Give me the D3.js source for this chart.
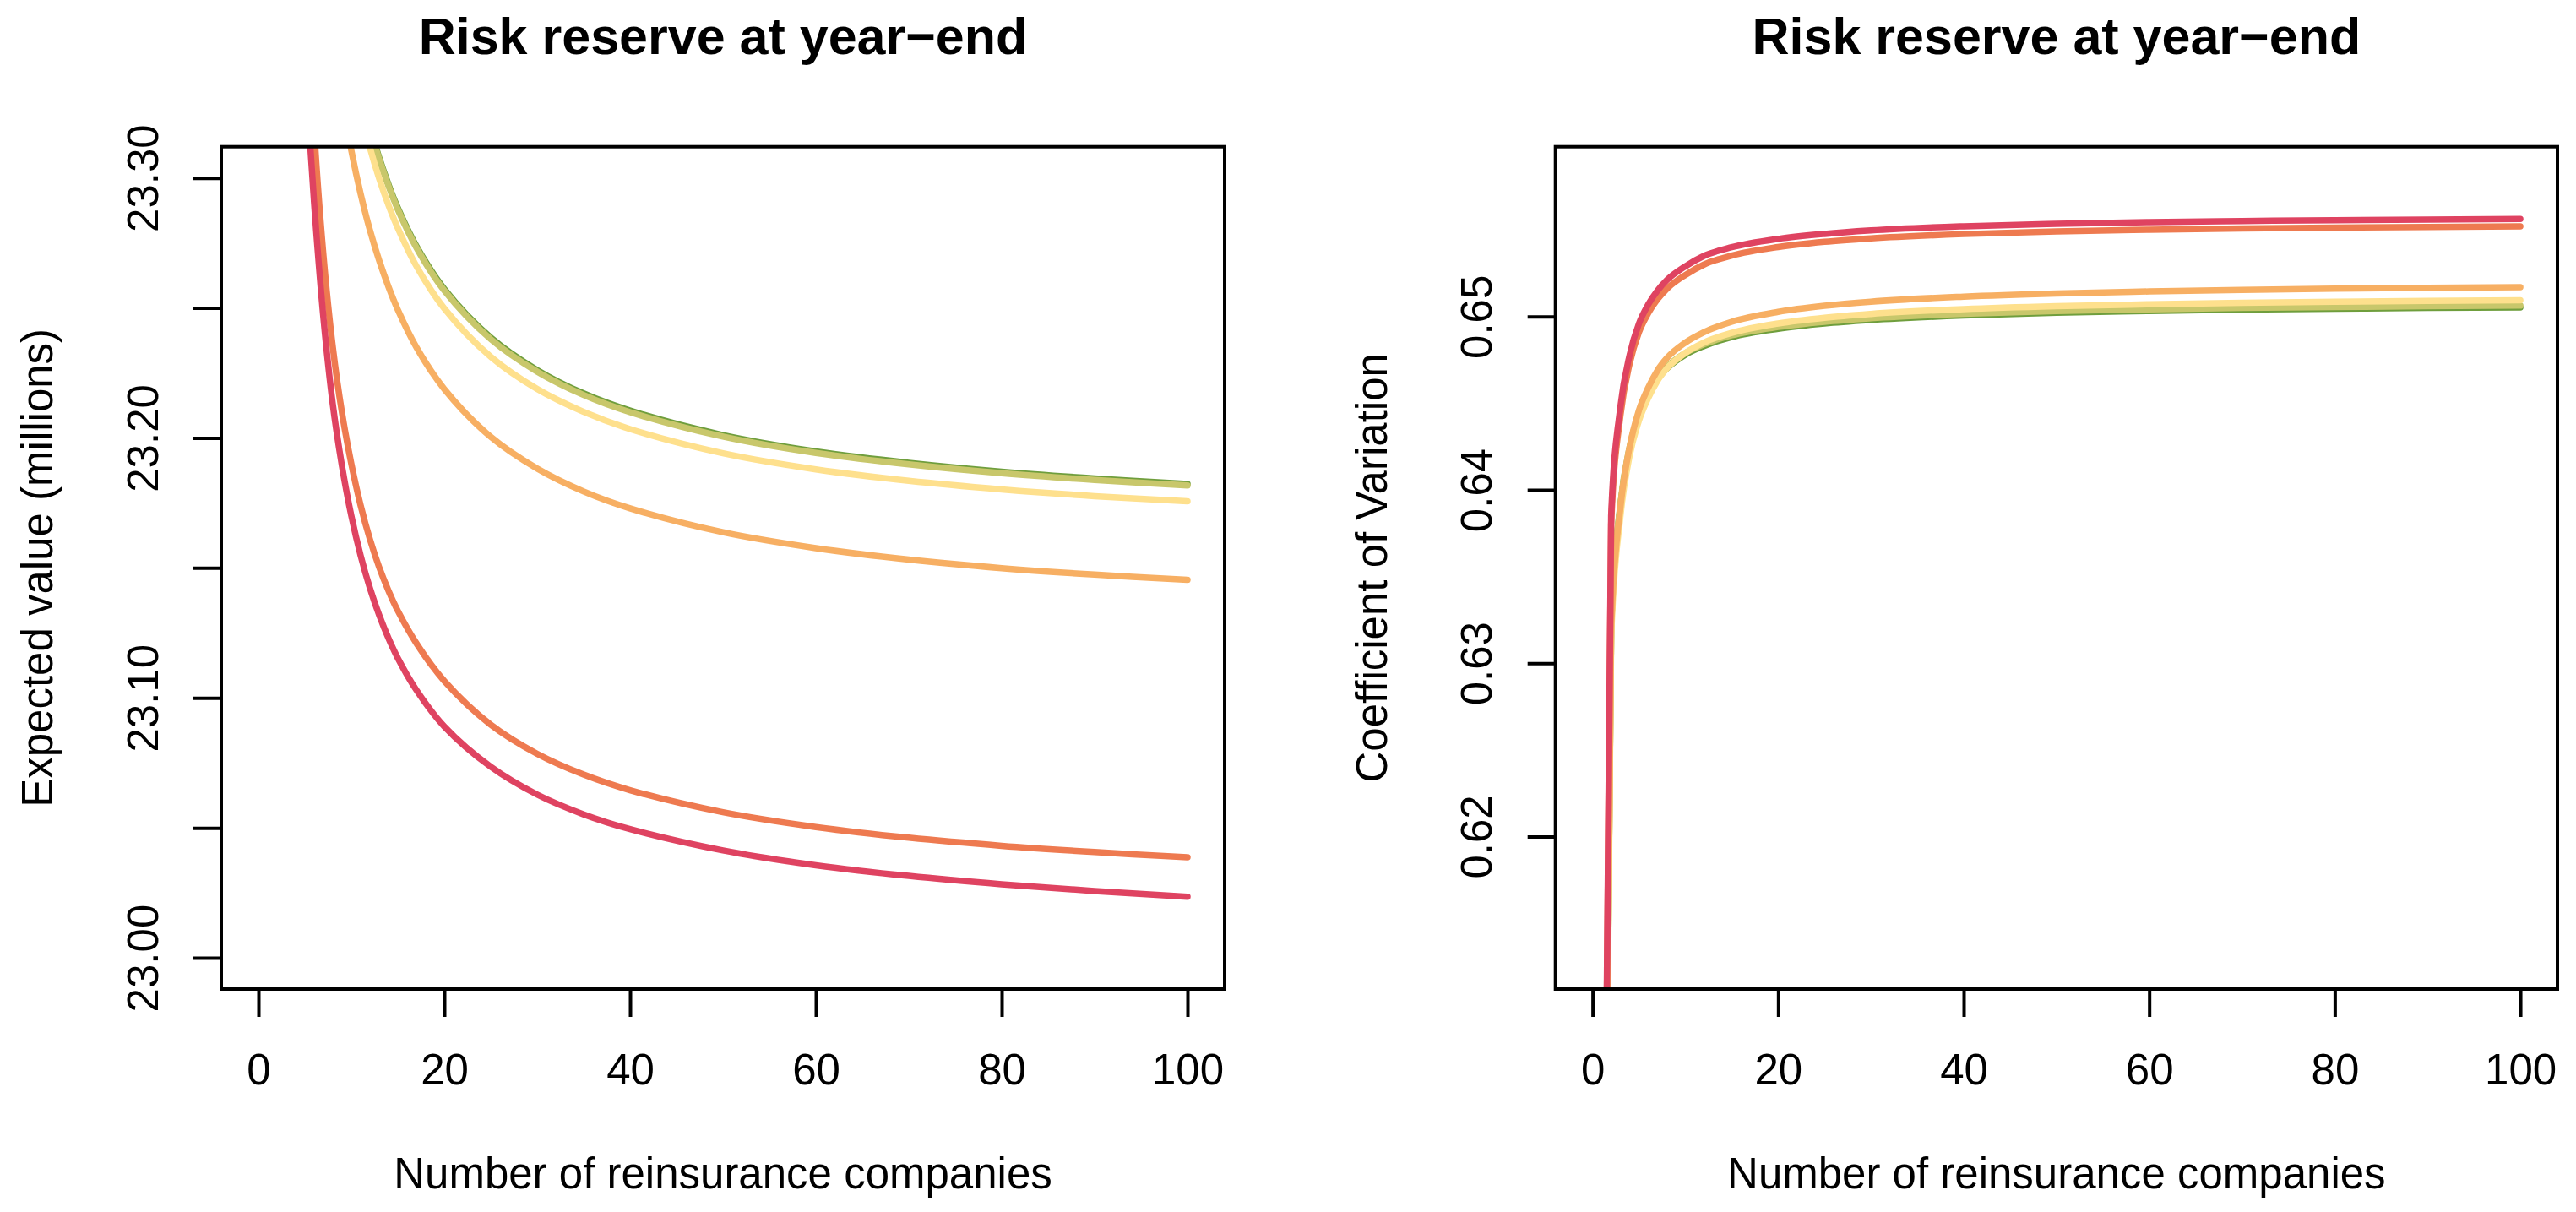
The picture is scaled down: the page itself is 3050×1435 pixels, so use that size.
<!DOCTYPE html>
<html><head><meta charset="utf-8">
<script src="https://cdn.jsdelivr.net/npm/d3@7"></script>
<style>body{margin:0;background:#fff}svg{display:block}</style>
</head><body>
<svg id="c" width="3050" height="1435"></svg>
<script>
// ---------- DATA ----------
const seriesNames = ["green", "olive", "yellow", "lightorange", "orangered", "red"];
const seriesColors = ["#6F9E3D", "#C8C76B", "#FEE08D", "#F7AF63", "#EE7A50", "#DF4361"];

// Left panel: expected value (millions) vs number of reinsurance companies
const nLeft = [5, 6, 7, 8, 9, 10, 11, 12, 13, 14, 15, 17, 20, 25, 30, 35, 40, 50, 60, 70, 80, 90, 100];
const evGreen       = [null, null, null, null, null, null, 23.3340, 23.3198, 23.3078, 23.2975, 23.2885, 23.2738, 23.2573, 23.2386, 23.2261, 23.2171, 23.2105, 23.2011, 23.1948, 23.1904, 23.1870, 23.1844, 23.1823];
const evOlive       = [null, null, null, null, null, null, 23.3334, 23.3192, 23.3072, 23.2969, 23.2879, 23.2732, 23.2567, 23.2380, 23.2255, 23.2165, 23.2099, 23.2005, 23.1942, 23.1898, 23.1864, 23.1838, 23.1817];
const evYellow      = [null, null, null, null, null, 23.3425, 23.3256, 23.3116, 23.2997, 23.2895, 23.2807, 23.2661, 23.2498, 23.2312, 23.2188, 23.2100, 23.2034, 23.1941, 23.1879, 23.1835, 23.1802, 23.1776, 23.1756];
const evLightOrange = [null, null, null, 23.3564, 23.3309, 23.3105, 23.2938, 23.2799, 23.2682, 23.2581, 23.2493, 23.2349, 23.2188, 23.2004, 23.1882, 23.1794, 23.1729, 23.1637, 23.1576, 23.1532, 23.1499, 23.1474, 23.1454];
const evOrangeRed   = [23.3850, 23.3180, 23.2700, 23.2350, 23.2095, 23.1900, 23.1740, 23.1610, 23.1502, 23.1412, 23.1335, 23.1210, 23.1065, 23.0897, 23.0785, 23.0705, 23.0645, 23.0560, 23.0503, 23.0462, 23.0431, 23.0407, 23.0387];
const evRed         = [23.3450, 23.2900, 23.2460, 23.2130, 23.1890, 23.1700, 23.1547, 23.1422, 23.1318, 23.1229, 23.1153, 23.1030, 23.0890, 23.0735, 23.0628, 23.0552, 23.0495, 23.0413, 23.0356, 23.0315, 23.0283, 23.0257, 23.0235];

// Right panel: coefficient of variation vs number of reinsurance companies
const nRight = [1, 2, 3, 4, 5, 6, 7, 8, 10, 12, 15, 20, 25, 30, 40, 50, 60, 70, 80, 90, 100];
const cvGreen       = [0.5749, 0.6321, 0.6391, 0.6424, 0.6443, 0.6455, 0.6464, 0.6470, 0.6478, 0.6483, 0.64882, 0.64930, 0.64960, 0.64980, 0.65006, 0.65022, 0.65032, 0.65040, 0.65045, 0.65050, 0.65053];
const cvOlive       = [0.5750, 0.6322, 0.6392, 0.6425, 0.6444, 0.6456, 0.6465, 0.6471, 0.6479, 0.6484, 0.64892, 0.64940, 0.64970, 0.64990, 0.65016, 0.65032, 0.65042, 0.65050, 0.65055, 0.65060, 0.65063];
const cvYellow      = [0.5740, 0.6315, 0.6385, 0.6420, 0.6440, 0.6453, 0.6463, 0.6470, 0.6479, 0.6485, 0.64906, 0.64960, 0.64993, 0.65015, 0.65043, 0.65060, 0.65071, 0.65079, 0.65085, 0.65090, 0.65094];
const cvLightOrange = [0.5750, 0.6320, 0.6390, 0.6425, 0.6446, 0.6459, 0.6469, 0.6476, 0.6485, 0.6491, 0.64970, 0.65027, 0.65062, 0.65086, 0.65115, 0.65133, 0.65145, 0.65154, 0.65161, 0.65166, 0.65170];
const cvOrangeRed   = [0.5790, 0.6380, 0.6443, 0.6473, 0.6491, 0.6502, 0.6510, 0.6516, 0.6524, 0.6530, 0.65352, 0.65401, 0.65431, 0.65451, 0.65476, 0.65491, 0.65501, 0.65508, 0.65513, 0.65517, 0.65520];
const cvRed         = [0.5800, 0.6385, 0.6448, 0.6478, 0.6496, 0.6507, 0.6515, 0.6521, 0.6529, 0.6535, 0.65400, 0.65448, 0.65477, 0.65497, 0.65521, 0.65535, 0.65545, 0.65551, 0.65556, 0.65560, 0.65563];

// Axes
const xTicks = [0, 20, 40, 60, 80, 100];
const leftYTicks = [23.00, 23.05, 23.10, 23.15, 23.20, 23.25, 23.30];
const leftYLabels = ["23.00", "", "23.10", "", "23.20", "", "23.30"];
const rightYTicks = [0.62, 0.63, 0.64, 0.65];
const rightYLabels = ["0.62", "0.63", "0.64", "0.65"];
const xDomain = [-4, 104];
const leftYDomain = [22.988, 23.312];
const rightYDomain = [0.6112, 0.6598];

const mainTitle = "Risk reserve at year\u2212end";
const xTitle = "Number of reinsurance companies";
const leftYTitle = "Expected value (millions)";
const rightYTitle = "Coefficient of Variation";

// ---------- DRAW ----------
const svg = d3.select("#c");
const FONT = "'Liberation Sans', Arial, Helvetica, sans-serif";
const AX = 51, TI = 61;

function panel(id, box, xs, seriesList, yDomain, yTicks, yLabels, yTitle, curve) {
  const x = d3.scaleLinear().domain(xDomain).range([box.x0, box.x1]);
  const y = d3.scaleLinear().domain(yDomain).range([box.y1, box.y0]);
  const g = svg.append("g");

  g.append("clipPath").attr("id", "clip" + id)
    .append("rect").attr("x", box.x0).attr("y", box.y0)
    .attr("width", box.x1 - box.x0).attr("height", box.y1 - box.y0);

  const line = d3.line()
    .defined(d => d[1] != null)
    .x(d => x(d[0])).y(d => y(d[1]))
    .curve(curve);

  const lg = g.append("g").attr("clip-path", `url(#clip${id})`);
  seriesList.forEach((vals, i) => {
    lg.append("path")
      .attr("d", line(xs.map((n, j) => [n, vals[j]])))
      .attr("fill", "none")
      .attr("stroke", seriesColors[i])
      .attr("stroke-width", 7.5)
      .attr("stroke-linecap", "round")
      .attr("stroke-linejoin", "round");
  });

  // x axis
  const xa = g.append("g").attr("transform", `translate(0,${box.y1})`)
    .call(d3.axisBottom(x).tickValues(xTicks).tickSize(33).tickFormat(d3.format("d")));
  xa.select(".domain").remove();
  xa.selectAll(".tick line").attr("stroke", "#000").attr("stroke-width", 4);
  xa.selectAll(".tick text").attr("y", 113).attr("dy", 0)
    .attr("font-family", FONT).attr("font-size", AX).attr("fill", "#000");

  // y axis
  const ya = g.append("g").attr("transform", `translate(${box.x0},0)`)
    .call(d3.axisLeft(y).tickValues(yTicks).tickSize(33).tickFormat((d, i) => yLabels[i]));
  ya.select(".domain").remove();
  ya.selectAll(".tick line").attr("stroke", "#000").attr("stroke-width", 4);
  ya.selectAll(".tick text")
    .attr("x", 0).attr("y", -75.5).attr("dy", 0)
    .attr("transform", "rotate(-90)")
    .attr("text-anchor", "middle")
    .attr("font-family", FONT).attr("font-size", AX).attr("fill", "#000");

  // box
  g.append("rect").attr("x", box.x0).attr("y", box.y0)
    .attr("width", box.x1 - box.x0).attr("height", box.y1 - box.y0)
    .attr("fill", "none").attr("stroke", "#000").attr("stroke-width", 4);

  const cx = (box.x0 + box.x1) / 2, cy = (box.y0 + box.y1) / 2;
  g.append("text").attr("x", cx).attr("y", 64).attr("text-anchor", "middle")
    .attr("font-family", FONT).attr("font-size", TI).attr("font-weight", "bold").text(mainTitle);
  g.append("text").attr("x", cx).attr("y", box.y1 + 236).attr("text-anchor", "middle")
    .attr("font-family", FONT).attr("font-size", AX).text(xTitle);
  g.append("text").attr("transform", `translate(${box.x0 - 200},${cy}) rotate(-90)`)
    .attr("text-anchor", "middle")
    .attr("font-family", FONT).attr("font-size", AX).text(yTitle);
}

panel("L", {x0: 262, x1: 1450, y0: 173.7, y1: 1171}, nLeft,
  [evGreen, evOlive, evYellow, evLightOrange, evOrangeRed, evRed],
  leftYDomain, leftYTicks, leftYLabels, leftYTitle, d3.curveCatmullRom.alpha(0.5));

panel("R", {x0: 1841.7, x1: 3028, y0: 173.7, y1: 1171}, nRight,
  [cvGreen, cvOlive, cvYellow, cvLightOrange, cvOrangeRed, cvRed],
  rightYDomain, rightYTicks, rightYLabels, rightYTitle, d3.curveMonotoneX);
</script>
</body></html>
